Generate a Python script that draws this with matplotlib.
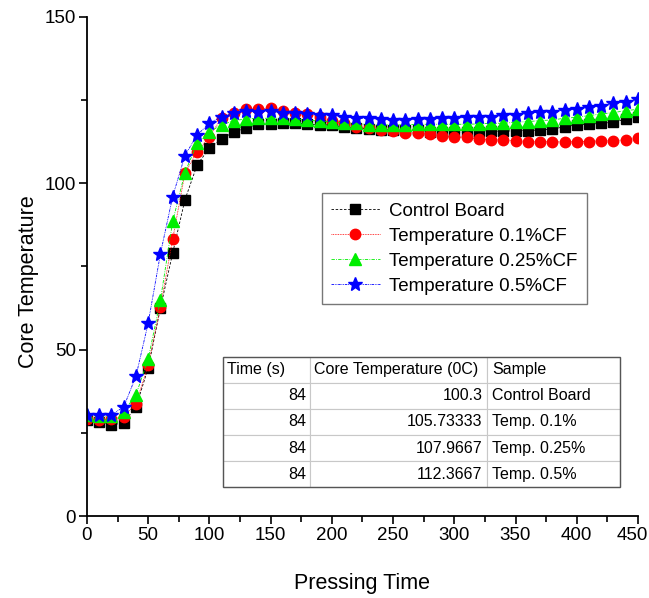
import numpy as np
import matplotlib
matplotlib.use("Agg")
import matplotlib.pyplot as plt
from matplotlib.patches import Rectangle
from matplotlib.ticker import MultipleLocator, FuncFormatter

plt.rcParams['font.family'] = ['Liberation Sans', 'DejaVu Sans']

# === data ===
time_s = list(range(0, 451, 10))

control = [29.0, 28.4, 27.4, 28.0, 32.7, 44.5, 62.5, 79.0, 95.0, 105.5,
           110.6, 113.3, 115.4, 116.6, 117.7, 117.8, 118.0, 118.0, 117.7, 117.5,
           117.5, 116.8, 116.5, 116.3, 116.0, 116.0, 116.0, 116.0, 115.5, 115.3,
           115.3, 115.3, 115.5, 115.6, 115.6, 115.8, 115.8, 116.0, 116.2, 117.0,
           117.5, 117.7, 118.0, 118.3, 119.3, 120.0]
cf_01 = [29.1, 28.9, 29.2, 29.8, 33.7, 45.3, 62.9, 83.2, 103.0, 109.5,
         114.0, 119.6, 121.2, 122.2, 122.3, 122.5, 121.8, 121.2, 120.8, 119.8,
         118.8, 118.0, 117.0, 116.5, 116.0, 115.8, 115.2, 115.0, 114.8, 114.2,
         113.8, 113.8, 113.2, 113.0, 113.0, 112.7, 112.5, 112.5, 112.4, 112.4,
         112.5, 112.5, 112.8, 112.8, 113.0, 113.7]
cf_025 = [30.4, 30.0, 30.0, 31.4, 36.4, 47.2, 64.9, 88.5, 103.2, 112.0,
          115.5, 117.5, 118.8, 119.3, 119.5, 119.5, 119.5, 119.3, 119.0, 118.6,
          118.5, 118.0, 118.0, 117.5, 117.5, 117.5, 117.5, 117.7, 117.7, 117.7,
          117.7, 117.7, 117.8, 118.0, 118.0, 118.3, 118.5, 118.8, 119.0, 119.5,
          119.8, 120.3, 120.8, 121.2, 121.8, 122.2]
cf_05 = [30.5, 30.4, 30.4, 32.8, 42.0, 58.0, 78.8, 96.0, 108.3, 114.5,
         118.0, 120.0, 121.2, 121.7, 121.5, 121.7, 121.2, 121.0, 120.8, 120.5,
         120.5, 120.0, 119.5, 119.5, 119.2, 119.0, 119.0, 119.2, 119.2, 119.5,
         119.5, 119.8, 120.0, 120.0, 120.5, 120.6, 121.2, 121.3, 121.5, 122.0,
         122.3, 122.8, 123.3, 124.0, 124.5, 125.2]

labels = ['Control Board', 'Temperature 0.1%CF', 'Temperature 0.25%CF', 'Temperature 0.5%CF']

table_header = ['Time (s)', 'Core Temperature (0C)', 'Sample']
table_time = ['84', '84', '84', '84']
table_temp = ['100.3', '105.73333', '107.9667', '112.3667']
table_sample = ['Control Board', 'Temp. 0.1%', 'Temp. 0.25%', 'Temp. 0.5%']

x_max = 450

# === figure ===
fig = plt.figure(figsize=(6.49, 5.98), dpi=100)
ax = fig.add_axes([0.134, 0.137, 0.849, 0.835])

ax.plot(time_s, control, color='black', ls=(0, (3, 2)), lw=0.6,
        marker='s', ms=6.5, mec='black', label=labels[0])
ax.plot(time_s, cf_01, color='red', ls=(0, (1, 1)), lw=0.6,
        marker='o', ms=7.5, mec='red', label=labels[1])
ax.plot(time_s, cf_025, color='#00ee00', ls=(0, (4, 1.5, 1, 1.5)), lw=0.6,
        marker='^', ms=8.5, mec='#00ee00', label=labels[2])
ax.plot(time_s, cf_05, color='blue', ls=(0, (3, 1, 1, 1, 1, 1)), lw=0.6,
        marker='*', ms=10, mec='blue', label=labels[3])

ax.set_xlim(0, x_max)
ax.set_ylim(0, 150)
ax.xaxis.set_major_locator(MultipleLocator(50))
ax.xaxis.set_minor_locator(MultipleLocator(25))
ax.yaxis.set_major_locator(MultipleLocator(50))
ax.yaxis.set_minor_locator(MultipleLocator(25))
# last x label is drawn separately, nudged left so it stays inside the picture
ax.xaxis.set_major_formatter(FuncFormatter(lambda v, p: '' if v >= x_max else f'{v:.0f}'))
ax.annotate(f'{x_max}', xy=(x_max, 0), xycoords='data', xytext=(-4, -8),
            textcoords='offset points', ha='center', va='top', fontsize=13.5,
            annotation_clip=False)

ax.spines['top'].set_visible(False)
ax.spines['right'].set_visible(False)
ax.spines['left'].set_linewidth(1.3)
ax.spines['bottom'].set_linewidth(1.3)
ax.tick_params(which='major', direction='out', length=6, width=1.2,
               labelsize=13.5, pad=2)
ax.tick_params(which='minor', direction='out', length=4, width=1.2)

ax.set_xlabel('Pressing Time', fontsize=15.5)
ax.set_ylabel('Core Temperature', fontsize=15.5)
ax.xaxis.set_label_coords(0.5, -0.114)
ax.yaxis.set_label_coords(-0.087, 0.47)

leg = ax.legend(loc='upper left', bbox_to_anchor=(0.426, 0.647), fontsize=13.5,
                frameon=True, fancybox=False, edgecolor='#555555',
                handlelength=2.6, borderpad=0.5, labelspacing=0.42,
                handletextpad=0.5, borderaxespad=0)
leg.get_frame().set_linewidth(1.0)

# === table ===
cells = [[t, c, s] for t, c, s in zip(table_time, table_temp, table_sample)]
tb = ax.table(cellText=[table_header] + cells,
              colWidths=[0.219, 0.446, 0.335],
              bbox=[0.247, 0.058, 0.720, 0.261])
tb.auto_set_font_size(False)
tb.set_fontsize(11.5)
for (r, c), cell in tb.get_celld().items():
    cell.set_edgecolor('#c8c8c8')
    cell.set_linewidth(0.8)
    cell.set_facecolor('white')
    cell.PAD = 0.04 if c != 1 else 0.025
    if r == 0 or c == 2:
        cell.get_text().set_horizontalalignment('left')
    else:
        cell.get_text().set_horizontalalignment('right')
ax.add_patch(Rectangle((0.247, 0.058), 0.720, 0.261, transform=ax.transAxes,
                       fill=False, edgecolor='#555555', lw=1.0, zorder=10))

fig.savefig('out.png', dpi=100)
